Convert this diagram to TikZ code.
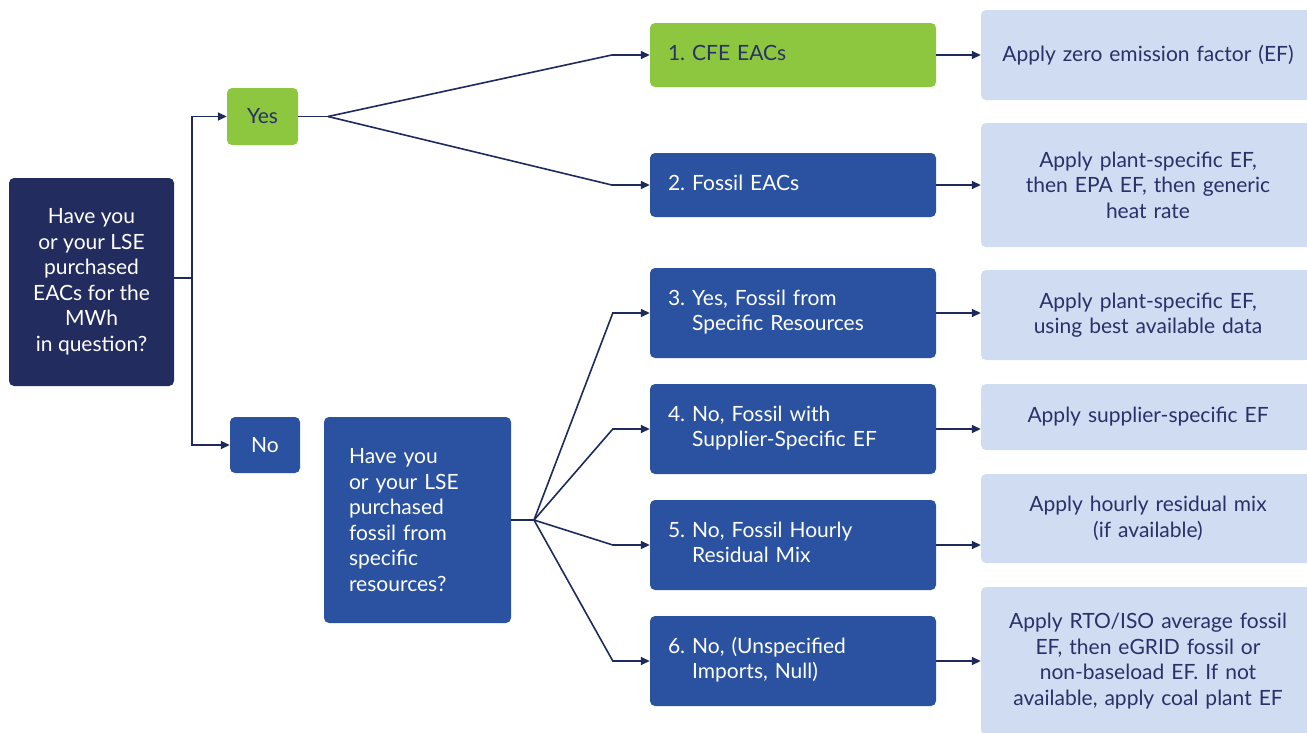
\documentclass[tikz,border=0pt]{standalone}
\usepackage{fontspec}
\setmainfont{Lato}
\usetikzlibrary{arrows.meta, positioning}
\definecolor{navy}{HTML}{232C5F}
\definecolor{ink}{HTML}{283168}
\definecolor{midblue}{HTML}{2B52A0}
\definecolor{leaf}{HTML}{8DC63F}
\definecolor{pale}{HTML}{CFDCF1}
\definecolor{wire}{HTML}{1F2A5C}

\begin{document}
\begin{tikzpicture}[x=1pt, y=-1pt, >={Triangle[length=9pt, width=8pt]},
    font=\fontsize{21}{25.5}\selectfont,
    qbox/.style={fill=navy, rounded corners=5pt, text=white, align=center, inner sep=0pt},
    ansbox/.style={rounded corners=5pt, align=center, inner sep=0pt},
    opt/.style={fill=midblue, rounded corners=5pt, text=white, align=left, inner xsep=18pt,
      text width=250pt, minimum width=286pt},
    res/.style={fill=pale, rounded corners=5pt, text=ink, align=center, inner sep=0pt,
      minimum width=334pt, text width=320pt},
    link/.style={draw=wire, line width=1.6pt},
    arr/.style={link, ->}]
  \useasboundingbox (0,0) rectangle (1307,732);
  % questions and yes / no
  \node[qbox, minimum width=165pt, minimum height=208pt] (q1) at (91.5,282)
    {Have you\\or your LSE\\purchased\\EACs for the\\MWh\\in question?};
  \node[ansbox, fill=leaf, text=ink, minimum width=71pt, minimum height=57pt] (yes) at (262.5,116.5) {Yes};
  \node[ansbox, fill=midblue, text=white, minimum width=70pt, minimum height=56pt] (no) at (265,445) {No};
  \node[qbox, fill=midblue, align=left, text width=137pt, inner xsep=25pt,
    minimum width=187pt, minimum height=206pt] (q2) at (417.5,520)
    {Have you\\or your LSE\\purchased\\fossil from\\specific\\resources?};
  % options
  \node[opt, fill=leaf, text=ink, minimum height=64pt] (o1) at (793,55)
    {\begin{tabular}{@{}l@{\ }l@{}}1. & CFE EACs\end{tabular}};
  \node[opt, minimum height=64pt] (o2) at (793,185)
    {\begin{tabular}{@{}l@{\ }l@{}}2. & Fossil EACs\end{tabular}};
  \node[opt, minimum height=90pt] (o3) at (793,313)
    {\begin{tabular}{@{}l@{\ }l@{}}3. & Yes, Fossil from\\ & Specific Resources\end{tabular}};
  \node[opt, minimum height=90pt] (o4) at (793,429)
    {\begin{tabular}{@{}l@{\ }l@{}}4. & No, Fossil with\\ & Supplier-Specific EF\end{tabular}};
  \node[opt, minimum height=90pt] (o5) at (793,545)
    {\begin{tabular}{@{}l@{\ }l@{}}5. & No, Fossil Hourly\\ & Residual Mix\end{tabular}};
  \node[opt, minimum height=90pt] (o6) at (793,661)
    {\begin{tabular}{@{}l@{\ }l@{}}6. & No, (Unspecified\\ & Imports, Null)\end{tabular}};
  % results
  \node[res, minimum height=90pt] (r1) at (1148,55) {Apply zero emission factor (EF)};
  \node[res, minimum height=124pt] (r2) at (1148,185)
    {Apply plant-specific EF,\\then EPA EF, then generic\\heat rate};
  \node[res, minimum height=90pt] (r3) at (1148,315)
    {Apply plant-specific EF,\\using best available data};
  \node[res, minimum height=66pt] (r4) at (1148,417) {Apply supplier-specific EF};
  \node[res, minimum height=89pt] (r5) at (1148,518.5)
    {Apply hourly residual mix\\(if available)};
  \node[res, minimum height=148pt] (r6) at (1148,661)
    {Apply RTO/ISO average fossil\\EF, then eGRID fossil or\\non-baseload EF. If not\\available, apply coal plant EF};
  % connectors
  \coordinate (split) at (192,278);
  \draw[link] (q1.east |- split) -- (split);
  \draw[arr] (split) |- (yes);
  \draw[arr] (split) |- (no);
  \coordinate (yfan) at (328,116.5);
  \draw[link] (yes) -- (yfan);
  \foreach \o in {o1,o2}
    \draw[arr] (yfan) -- ([xshift=-38pt]\o.west) -- (\o.west);
  \coordinate (nfan) at (534,520);
  \draw[link] (q2) -- (nfan);
  \foreach \o in {o3,o4,o5,o6}
    \draw[arr] (nfan) -- ([xshift=-37pt]\o.west) -- (\o.west);
  \foreach \i in {1,...,6}
    \draw[arr] (o\i.east) -- (o\i.east -| r\i.west);
\end{tikzpicture}
\end{document}
